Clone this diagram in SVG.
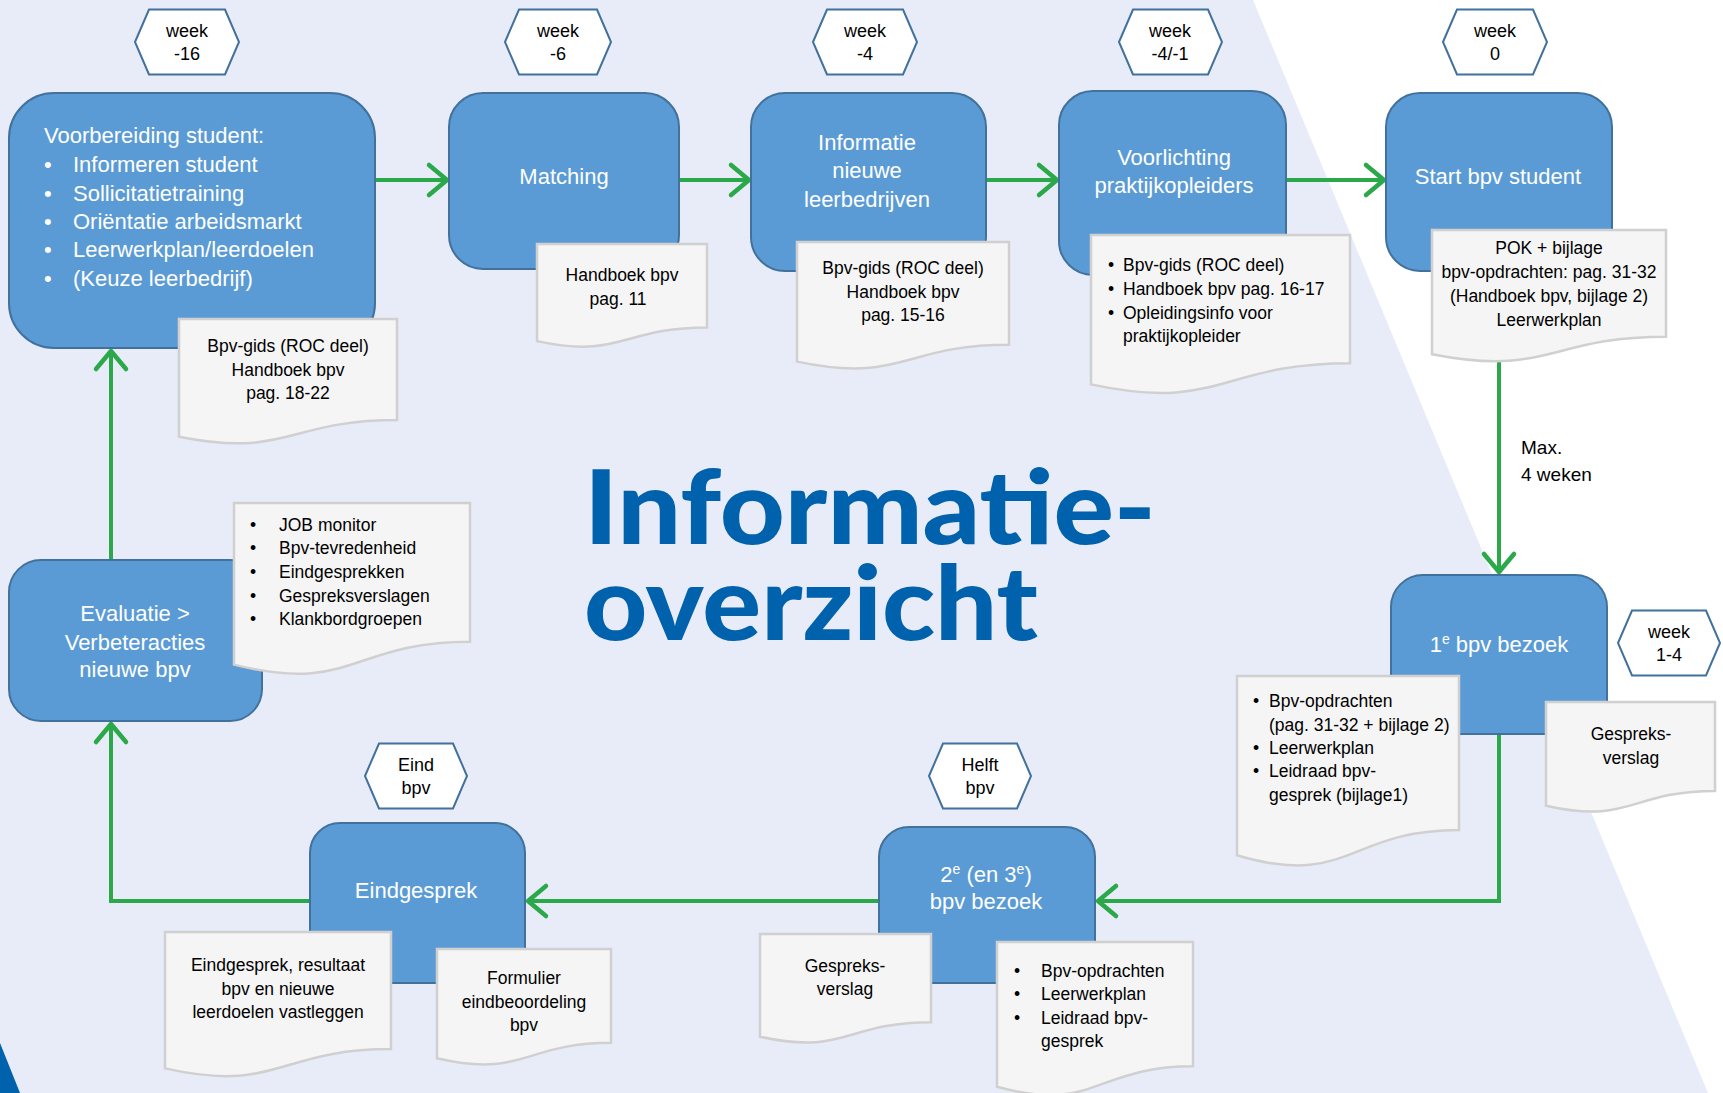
<svg xmlns="http://www.w3.org/2000/svg" width="1723" height="1093" viewBox="0 0 1723 1093">
<defs>
<style>
.node rect{fill:#5B9BD5;stroke:#41719C;stroke-width:2}
.nt{font-family:"Liberation Sans",Arial,sans-serif;font-size:22px;fill:#fff;text-anchor:middle}
.nl{font-family:"Liberation Sans",Arial,sans-serif;font-size:22px;fill:#fff}
.doc path{fill:#F5F5F5;stroke:#D0D0D0;stroke-width:2.5}
.dt{font-family:"Liberation Sans",Arial,sans-serif;font-size:17.5px;fill:#000;text-anchor:middle}
.dl{font-family:"Liberation Sans",Arial,sans-serif;font-size:17.5px;fill:#000}
.hex polygon{fill:#fff;stroke:#41719C;stroke-width:2}
.ht{font-family:"Liberation Sans",Arial,sans-serif;font-size:18px;fill:#000;text-anchor:middle}
.conn path{fill:none;stroke:#2BA84A;stroke-width:4;marker-end:url(#arr)}
.lbl{font-family:"Liberation Sans",Arial,sans-serif;font-size:19px;fill:#000}
.title{font-family:Lato,"Open Sans",sans-serif;font-weight:900;font-size:103px;fill:#0061AC}
</style>
<marker id="arr" markerUnits="userSpaceOnUse" viewBox="-24 -20 28 40" refX="0" refY="0" markerWidth="28" markerHeight="40" orient="auto">
<polyline points="-18,-15 0,0 -18,15" fill="none" stroke="#2BA84A" stroke-width="4.5" stroke-linecap="round" stroke-linejoin="round"/>
</marker>
</defs>

<rect x="0" y="0" width="1723" height="1093" fill="#E8ECF8"/>
<polygon points="1253,0 1723,0 1723,1093 1708,1093" fill="#FFFFFF"/>
<polygon points="0,1043 20,1093 0,1093" fill="#0061AC"/>

<text class="title" x="584" y="544" textLength="572" lengthAdjust="spacingAndGlyphs">Informatie-</text>
<text class="title" x="584" y="640" textLength="454" lengthAdjust="spacingAndGlyphs">overzicht</text>

<g id="connectors" class="conn">
<path d="M375,180 H447"/>
<path d="M679,180 H749"/>
<path d="M986,180 H1057"/>
<path d="M1286,180 H1384"/>
<path d="M1499,271 V572"/>
<path d="M1499,734 V901 H1098"/>
<path d="M879,901 H528"/>
<path d="M310,901 H111 V724"/>
<path d="M111,560 V351"/>
<text class="lbl" x="1521" y="454">Max.</text>
<text class="lbl" x="1521" y="481">4 weken</text>
</g>

<g id="node-voorbereiding" class="node">
<rect x="9" y="93" width="366" height="255" rx="45"/>
<text class="nl" x="44" y="143">Voorbereiding student:</text>
<text class="nl" x="44" y="172">•</text><text class="nl" x="73" y="172">Informeren student</text>
<text class="nl" x="44" y="200.5">•</text><text class="nl" x="73" y="200.5">Sollicitatietraining</text>
<text class="nl" x="44" y="229">•</text><text class="nl" x="73" y="229">Oriëntatie arbeidsmarkt</text>
<text class="nl" x="44" y="257">•</text><text class="nl" x="73" y="257">Leerwerkplan/leerdoelen</text>
<text class="nl" x="44" y="285.5">•</text><text class="nl" x="73" y="285.5">(Keuze leerbedrijf)</text>
</g>
<g id="node-matching" class="node">
<rect x="449" y="93" width="230" height="176" rx="34"/>
<text class="nt" x="564" y="184">Matching</text>
</g>
<g id="node-informatie" class="node">
<rect x="751" y="93" width="235" height="178" rx="34"/>
<text class="nt" x="867" y="150">Informatie</text>
<text class="nt" x="867" y="178">nieuwe</text>
<text class="nt" x="867" y="207">leerbedrijven</text>
</g>
<g id="node-voorlichting" class="node">
<rect x="1059" y="91" width="227" height="184" rx="34"/>
<text class="nt" x="1174" y="165">Voorlichting</text>
<text class="nt" x="1174" y="193">praktijkopleiders</text>
</g>
<g id="node-start" class="node">
<rect x="1386" y="93" width="226" height="178" rx="34"/>
<text class="nt" x="1498" y="184">Start bpv student</text>
</g>
<g id="node-bezoek1" class="node">
<rect x="1391" y="575" width="216" height="159" rx="32"/>
<text class="nt" x="1499" y="652">1<tspan font-size="14" dy="-8">e</tspan><tspan dy="8" dx="6">bpv bezoek</tspan></text>
</g>
<g id="node-bezoek2" class="node">
<rect x="879" y="827" width="216" height="156" rx="30"/>
<text class="nt" x="986" y="882">2<tspan font-size="14" dy="-8">e</tspan><tspan dy="8"> (en 3</tspan><tspan font-size="14" dy="-8">e</tspan><tspan dy="8">)</tspan></text>
<text class="nt" x="986" y="909">bpv bezoek</text>
</g>
<g id="node-eindgesprek" class="node">
<rect x="310" y="823" width="215" height="160" rx="30"/>
<text class="nt" x="416" y="898">Eindgesprek</text>
</g>
<g id="node-evaluatie" class="node">
<rect x="9" y="560" width="253" height="161" rx="32"/>
<text class="nt" x="135" y="621">Evaluatie &gt;</text>
<text class="nt" x="135" y="650">Verbeteracties</text>
<text class="nt" x="135" y="677">nieuwe bpv</text>
</g>

<g id="doc-voorbereiding" class="doc">
<path d="M179,319 H397 V420 C288,420 288,458.5 179,436.7 Z"/>
<text class="dt" x="288" y="352">Bpv-gids (ROC deel)</text>
<text class="dt" x="288" y="376">Handboek bpv</text>
<text class="dt" x="288" y="399">pag. 18-22</text>
</g>
<g id="doc-matching" class="doc">
<path d="M537,244 H707 V327.4 C622,327.4 622,359.2 537,341.1 Z"/>
<text class="dt" x="622" y="281">Handboek bpv</text>
<text class="dt" x="618" y="305">pag. 11</text>
</g>
<g id="doc-informatie" class="doc">
<path d="M797,242 H1009 V344.7 C903,344.7 903,383.8 797,361.6 Z"/>
<text class="dt" x="903" y="274">Bpv-gids (ROC deel)</text>
<text class="dt" x="903" y="298">Handboek bpv</text>
<text class="dt" x="903" y="321">pag. 15-16</text>
</g>
<g id="doc-voorlichting" class="doc">
<path d="M1091,235 H1350 V363.3 C1220.5,363.3 1220.5,412.2 1091,384.4 Z"/>
<text class="dl" x="1108" y="271">•</text><text class="dl" x="1123" y="271">Bpv-gids (ROC deel)</text>
<text class="dl" x="1108" y="295">•</text><text class="dl" x="1123" y="295">Handboek bpv pag. 16-17</text>
<text class="dl" x="1108" y="319">•</text><text class="dl" x="1123" y="319">Opleidingsinfo voor</text>
<text class="dl" x="1123" y="342">praktijkopleider</text>
</g>
<g id="doc-start" class="doc">
<path d="M1432,230 H1666 V336.7 C1549,336.7 1549,377.3 1432,354.2 Z"/>
<text class="dt" x="1549" y="254">POK + bijlage</text>
<text class="dt" x="1549" y="278">bpv-opdrachten: pag. 31-32</text>
<text class="dt" x="1549" y="302">(Handboek bpv, bijlage 2)</text>
<text class="dt" x="1549" y="326">Leerwerkplan</text>
</g>
<g id="doc-evaluatie" class="doc">
<path d="M234,503 H470 V641.7 C352,641.7 352,694.6 234,664.6 Z"/>
<text class="dl" x="250" y="531">•</text><text class="dl" x="279" y="531">JOB monitor</text>
<text class="dl" x="250" y="554">•</text><text class="dl" x="279" y="554">Bpv-tevredenheid</text>
<text class="dl" x="250" y="578">•</text><text class="dl" x="279" y="578">Eindgesprekken</text>
<text class="dl" x="250" y="602">•</text><text class="dl" x="279" y="602">Gespreksverslagen</text>
<text class="dl" x="250" y="625">•</text><text class="dl" x="279" y="625">Klankbordgroepen</text>
</g>
<g id="doc-bezoek1-links" class="doc">
<path d="M1237,676 H1459 V830 C1348,830 1348,888.6 1237,855.3 Z"/>
<text class="dl" x="1253" y="707">•</text><text class="dl" x="1269" y="707">Bpv-opdrachten</text>
<text class="dl" x="1269" y="731">(pag. 31-32 + bijlage 2)</text>
<text class="dl" x="1253" y="754">•</text><text class="dl" x="1269" y="754">Leerwerkplan</text>
<text class="dl" x="1253" y="777">•</text><text class="dl" x="1269" y="777">Leidraad bpv-</text>
<text class="dl" x="1269" y="801">gesprek  (bijlage1)</text>
</g>
<g id="doc-bezoek1-rechts" class="doc">
<path d="M1546,702 H1715 V791 C1630.5,791 1630.5,824.9 1546,805.7 Z"/>
<text class="dt" x="1631" y="740">Gespreks-</text>
<text class="dt" x="1631" y="764">verslag</text>
</g>
<g id="doc-bezoek2-links" class="doc">
<path d="M760,934 H931 V1022.2 C845.5,1022.2 845.5,1055.8 760,1036.7 Z"/>
<text class="dt" x="845" y="972">Gespreks-</text>
<text class="dt" x="845" y="995">verslag</text>
</g>
<g id="doc-bezoek2-rechts" class="doc">
<path d="M997,942 H1193 V1066.3 C1095,1066.3 1095,1113.7 997,1086.8 Z"/>
<text class="dl" x="1014" y="977">•</text><text class="dl" x="1041" y="977">Bpv-opdrachten</text>
<text class="dl" x="1014" y="1000">•</text><text class="dl" x="1041" y="1000">Leerwerkplan</text>
<text class="dl" x="1014" y="1024">•</text><text class="dl" x="1041" y="1024">Leidraad bpv-</text>
<text class="dl" x="1041" y="1047">gesprek</text>
</g>
<g id="doc-eindgesprek-links" class="doc">
<path d="M165,932 H391 V1049.1 C278,1049.1 278,1093.7 165,1068.4 Z"/>
<text class="dt" x="278" y="971">Eindgesprek, resultaat</text>
<text class="dt" x="278" y="995">bpv en nieuwe</text>
<text class="dt" x="278" y="1018">leerdoelen vastleggen</text>
</g>
<g id="doc-eindgesprek-rechts" class="doc">
<path d="M437,949 H611 V1042.8 C524,1042.8 524,1078.6 437,1058.3 Z"/>
<text class="dt" x="524" y="984">Formulier</text>
<text class="dt" x="524" y="1008">eindbeoordeling</text>
<text class="dt" x="524" y="1031">bpv</text>
</g>

<g id="hex-week-16" class="hex">
<polygon points="135,42 149,9.5 225,9.5 239,42 225,74.5 149,74.5"/>
<text class="ht" x="187" y="37">week</text><text class="ht" x="187" y="60">-16</text>
</g>
<g id="hex-week-6" class="hex">
<polygon points="505,42 519,9.5 597,9.5 611,42 597,74.5 519,74.5"/>
<text class="ht" x="558" y="37">week</text><text class="ht" x="558" y="60">-6</text>
</g>
<g id="hex-week-4" class="hex">
<polygon points="813,42 827,9.5 903,9.5 917,42 903,74.5 827,74.5"/>
<text class="ht" x="865" y="37">week</text><text class="ht" x="865" y="60">-4</text>
</g>
<g id="hex-week-4-1" class="hex">
<polygon points="1119,42 1133,9.5 1208,9.5 1222,42 1208,74.5 1133,74.5"/>
<text class="ht" x="1170" y="37">week</text><text class="ht" x="1170" y="60">-4/-1</text>
</g>
<g id="hex-week0" class="hex">
<polygon points="1443,42 1457,9.5 1533,9.5 1547,42 1533,74.5 1457,74.5"/>
<text class="ht" x="1495" y="37">week</text><text class="ht" x="1495" y="60">0</text>
</g>
<g id="hex-week1-4" class="hex">
<polygon points="1618,643 1632,610.5 1706,610.5 1720,643 1706,675.5 1632,675.5"/>
<text class="ht" x="1669" y="638">week</text><text class="ht" x="1669" y="661">1-4</text>
</g>
<g id="hex-eind" class="hex">
<polygon points="365,776 379,743.5 453,743.5 467,776 453,808.5 379,808.5"/>
<text class="ht" x="416" y="771">Eind</text><text class="ht" x="416" y="794">bpv</text>
</g>
<g id="hex-helft" class="hex">
<polygon points="929,776 943,743.5 1017,743.5 1031,776 1017,808.5 943,808.5"/>
<text class="ht" x="980" y="771">Helft</text><text class="ht" x="980" y="794">bpv</text>
</g>
</svg>
